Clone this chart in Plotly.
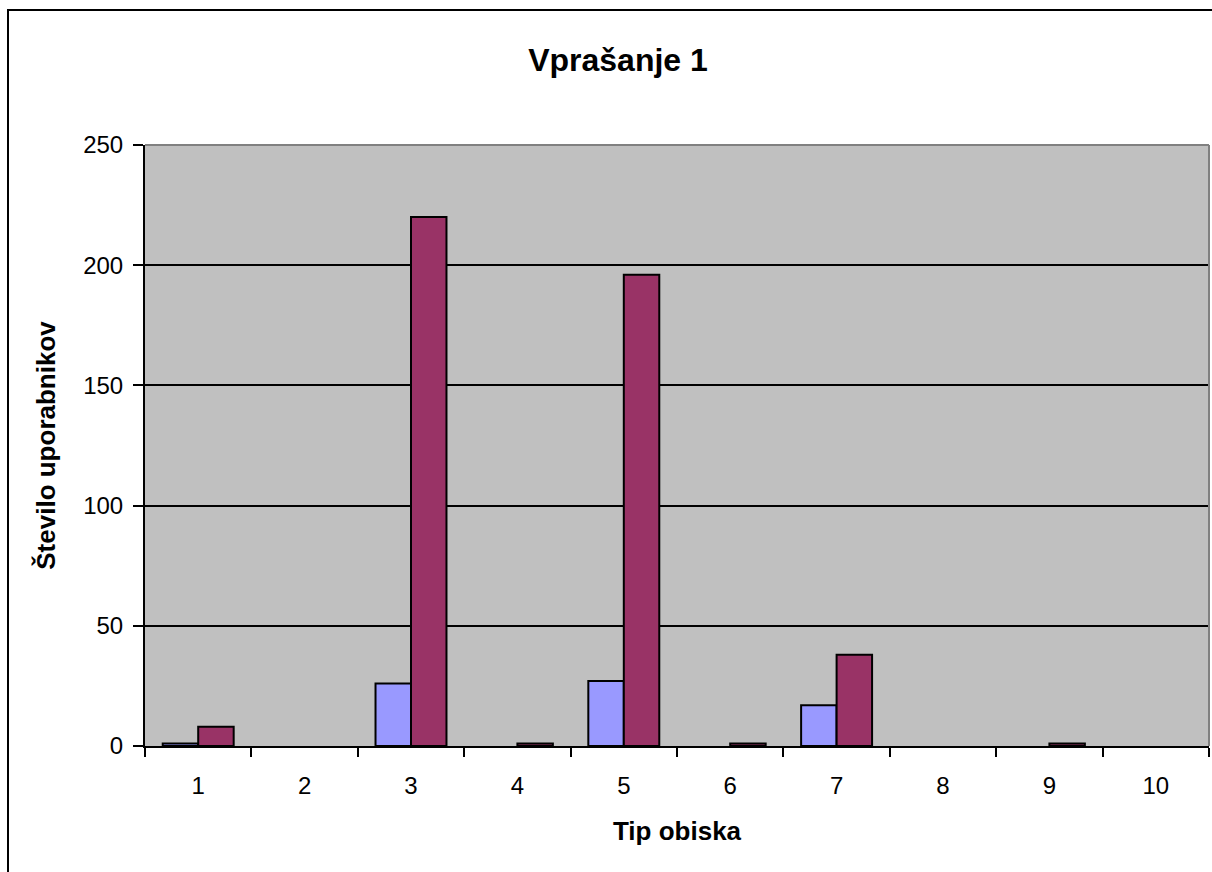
import plotly.graph_objects as go

CATEGORIES = [str(i) for i in range(1, 11)]
SERIES_A = [1, 0, 26, 0, 27, 0, 17, 0, 0, 0]
SERIES_B = [8, 0, 220, 1, 196, 1, 38, 0, 1, 0]
Y_TICKS = [0, 50, 100, 150, 200, 250]

FONT = "Liberation Sans, Arial, sans-serif"
W, H = 1212, 872
L, R, T, B = 145, 3, 145, 126


def blank_zero(vals):
    # empty categories carry no bar at all in the original chart
    return [v if v else None for v in vals]


fig = go.Figure()
fig.add_trace(go.Bar(
    x=CATEGORIES, y=blank_zero(SERIES_A), name="A",
    marker=dict(color="#9999FF", line=dict(color="black", width=2)),
))
fig.add_trace(go.Bar(
    x=CATEGORIES, y=blank_zero(SERIES_B), name="B",
    marker=dict(color="#993366", line=dict(color="black", width=2)),
))

pw, ph = W - L - R, H - T - B


def px_x(v):
    return (v - L) / pw


def px_y(v):
    return (H - B - v) / ph


fig.update_layout(
    width=W, height=H,
    margin=dict(l=L, r=R, t=T, b=B),
    paper_bgcolor="white",
    plot_bgcolor="#C0C0C0",
    showlegend=False,
    barmode="group",
    bargap=0.333,
    bargroupgap=0,
    font=dict(family=FONT, color="black", size=24),
    title=dict(text="<b>Vprašanje 1</b>", x=618 / W, xanchor="center",
               y=1 - 60 / H, yanchor="middle", font=dict(size=32)),
    shapes=[
        # outer chart frame
        dict(type="rect", xref="paper", yref="paper",
             x0=px_x(8), x1=px_x(1240), y0=px_y(900), y1=px_y(10),
             line=dict(color="black", width=2), layer="below"),
        # top and right plot borders in grey
        dict(type="line", xref="paper", yref="paper", x0=0, x1=1, y0=1, y1=1,
             line=dict(color="#808080", width=2), layer="above"),
        dict(type="line", xref="paper", yref="paper", x0=1, x1=1, y0=0, y1=1,
             line=dict(color="#808080", width=2), layer="above"),
    ],
)

fig.update_xaxes(
    title=dict(text="<b>Tip obiska</b>", font=dict(size=26), standoff=24),
    showline=True, linecolor="black", linewidth=2,
    ticks="outside", tickson="boundaries", ticklen=9, tickwidth=1.5, tickcolor="black",
    ticklabelstandoff=17,
    showgrid=False, tickfont=dict(size=24),
)
fig.update_yaxes(
    title=dict(text="<b>Število uporabnikov</b>", font=dict(size=26), standoff=20),
    range=[0, 250], tickvals=Y_TICKS,
    showline=True, linecolor="black", linewidth=2,
    ticks="outside", ticklen=10, tickwidth=1.5, tickcolor="black",
    ticklabelstandoff=5,
    showgrid=True, gridcolor="black", gridwidth=1.5, zeroline=False,
    tickfont=dict(size=24),
)

fig.write_html("out.html", config={"displayModeBar": False},
               post_script="document.body.style.margin='0';")
